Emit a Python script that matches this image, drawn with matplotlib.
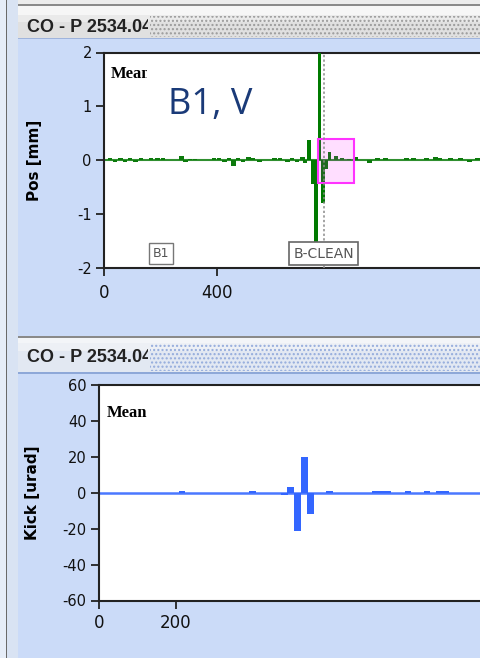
import matplotlib
matplotlib.use("Agg")
import matplotlib.pyplot as plt
from matplotlib.patches import Rectangle
from matplotlib.transforms import Bbox

plt.rcParams["axes.unicode_minus"] = False

# ---------------- data ----------------
# top panel: closed orbit position [mm] per BPM (B1, V)
pos_noise_x = [20, 38, 56, 73, 91, 109, 130, 165, 187, 208, 272, 286, 303, 321,
               388, 406, 424, 441, 456, 473, 491, 509, 526, 548, 601, 622, 647,
               664, 682, 700, 710, 820, 841, 866, 889, 939, 967, 994, 1068, 1093,
               1141, 1171, 1188, 1224, 1261, 1293, 1321]
pos_noise_v = [0.03, -0.03, 0.03, -0.03, 0.03, -0.03, 0.03, 0.03, 0.03, 0.03,
               0.08, -0.03, 0.02, 0.02, 0.03, 0.03, -0.03, 0.03, -0.12, 0.03,
               -0.03, 0.06, 0.03, -0.03, 0.03, 0.03, -0.04, 0.03, -0.03, 0.06,
               -0.05, 0.07, 0.04, 0.02, 0.05, -0.05, 0.03, 0.03, 0.03, 0.03,
               0.03, 0.05, 0.04, 0.03, 0.03, -0.03, 0.03]
pos_peak_x = [725, 737, 749, 762, 774, 785, 797]
pos_peak_v = [0.38, -0.45, -1.53, 2.6, -0.8, -0.17, 0.14]
pos_marker_x = 777
pos_box_x = [757, 884]
pos_box_v = [-0.43, 0.39]

# bottom panel: corrector kicks [urad]
kick_x = [217, 401, 484, 500, 518, 537, 552, 602, 722, 738, 753, 806, 856, 889, 905]
kick_v = [1, 1, -1, 3.4, -21.5, 19.7, -12, 1, 1, 1, 1, 1, 1, 1, 1]

top_xticks = [0, 400]
top_yticks = [-2, -1, 0, 1, 2]
bot_xticks = [0, 200]
bot_yticks = [-60, -40, -20, 0, 20, 40, 60]

title_text = "CO - P 2534.04"

# ---------------- figure ----------------
W, H = 481, 658
fig = plt.figure(figsize=(W / 100, H / 100), dpi=100)
fig.patch.set_facecolor("#cbdbf8")

bg = fig.add_axes([0, 0, 1, 1], zorder=0)
bg.set_xlim(0, W)
bg.set_ylim(H, 0)
bg.axis("off")

def rect(x0, y0, x1, y1, **kw):
    bg.add_patch(Rectangle((x0, y0), x1 - x0, y1 - y0, **kw))

# left strip
rect(0, 0, 6, H, facecolor="#e6edf8", lw=0)
rect(6, 0, 7.5, H, facecolor="#6a6a6a", lw=0)
rect(7.5, 0, 18, H, facecolor="#d9e3f3", lw=0)
# top header
rect(18, 0, W, 4, facecolor="#ececec", lw=0)
rect(18, 4, W, 5.5, facecolor="#8a8a8a", lw=0)
rect(18, 5.5, W, 15, facecolor="#f6f6f6", lw=0)
rect(18, 15, W, 38, facecolor="#e0e0e0", lw=0)
rect(18, 15, W, 22, facecolor="#eaeaea", lw=0)
rect(150, 16, W, 37, facecolor="none", hatch="....", edgecolor="#9a9a9a", lw=0)
rect(18, 37.5, W, 39, facecolor="#9fb4dc", lw=0)
# separator between panels
rect(18, 336, W, 338, facecolor="#8a8a8a", lw=0)
rect(18, 338, W, 343, facecolor="#f3f5f8", lw=0)
rect(18, 343, W, 372, facecolor="#e2e8f2", lw=0)
rect(18, 343, W, 351, facecolor="#edf0f5", lw=0)
rect(150, 344, W, 371, facecolor="none", hatch="....", edgecolor="#93abdc", lw=0)
rect(18, 372, W, 374, facecolor="#8ea8d8", lw=0)

clip1 = Bbox.from_extents(0, 0, 148, H)
for yy in (27.5, 358):
    t = bg.text(27, yy, title_text, fontsize=13, color="#222222", va="center",
                ha="left", family="Liberation Sans", fontweight="bold")
    t.set_clip_on(True)
    t.set_clip_box(clip1)

def frac(x0, y0, x1, y1):
    return [x0 / W, 1 - y1 / H, (x1 - x0) / W, (y1 - y0) / H]

def style(ax, xpad):
    ax.set_facecolor("white")
    for s in ("left", "bottom", "top"):
        ax.spines[s].set_color("#222222")
        ax.spines[s].set_linewidth(1.5)
    ax.spines["right"].set_visible(False)
    ax.tick_params(axis="both", direction="out", length=6, width=1.3,
                   color="#222222", labelcolor="#111111")
    ax.tick_params(axis="y", pad=3, labelsize=10.5)
    ax.tick_params(axis="x", pad=xpad, labelsize=12)
    for lab in ax.get_xticklabels() + ax.get_yticklabels():
        lab.set_family("DejaVu Sans")

# ---- top axes ----
ax1 = fig.add_axes(frac(104.3, 52.5, W, 267.5), zorder=2)
ax1.set_xlim(0, 1333)
ax1.set_ylim(-2, 2)
ax1.set_xticks(top_xticks)
ax1.set_yticks(top_yticks)
ax1.axhline(0, color="#2f8f2f", lw=1.5, zorder=2)
ax1.bar(pos_noise_x, pos_noise_v, width=17, color="#0c7a0c", lw=0, zorder=3)
ax1.bar(pos_peak_x, pos_peak_v, width=12.4, color="#007a00", lw=0, zorder=3)
ax1.add_patch(Rectangle((pos_box_x[0], pos_box_v[0]), pos_box_x[1] - pos_box_x[0],
                        pos_box_v[1] - pos_box_v[0], facecolor=(1, 0, 1, 0.13),
                        edgecolor="#ff33ff", lw=1.5, zorder=4))
ax1.axvline(pos_marker_x, color="#8a8a8a", lw=1.1, ls=(0, (1.5, 1.5)), zorder=5)
ax1.set_ylabel("Pos [mm]", fontsize=11, fontweight="bold")
ax1.yaxis.set_label_coords(-0.165, 0.5)
style(ax1, 6)
mt = ax1.text(0.017, 0.9, "Mean", transform=ax1.transAxes, fontsize=12,
              fontweight="bold", family="Liberation Serif", va="center", ha="left")
mt.set_clip_on(True)
mt.set_clip_box(Bbox.from_extents(0, 0, 147, H))
ax1.text(200, -1.74, "B1", fontsize=9, color="#555555",
         ha="center", va="center", family="DejaVu Sans",
         bbox=dict(boxstyle="square,pad=0.3", facecolor="white", edgecolor="#777777", lw=1))
ax1.text(pos_marker_x, -1.74, "B-CLEAN", fontsize=10, color="#555555",
         ha="center", va="center", family="DejaVu Sans",
         bbox=dict(boxstyle="square,pad=0.3", facecolor="white", edgecolor="#666666", lw=1.2),
         zorder=6)

# ---- bottom axes ----
ax2 = fig.add_axes(frac(99, 385, W, 600.5), zorder=2)
ax2.set_xlim(0, 997)
ax2.set_ylim(-60, 60)
ax2.set_xticks(bot_xticks)
ax2.set_yticks(bot_yticks)
ax2.axhline(0, color="#4a78ff", lw=1.8, zorder=2)
ax2.bar(kick_x, kick_v, width=17, color="#3366ff", lw=0, zorder=3)
ax2.set_ylabel("Kick [urad]", fontsize=11, fontweight="bold")
ax2.yaxis.set_label_coords(-0.154, 0.5)
style(ax2, 4)
ax2.text(0.02, 0.87, "Mean", transform=ax2.transAxes, fontsize=12,
         fontweight="bold", family="Liberation Serif", va="center", ha="left")

# big annotation
fig.text(168 / W, 1 - 105 / H, "B1, V", fontsize=26, color="#1a3a78",
         family="Open Sans", ha="left", va="center", zorder=10)

fig.savefig("out.png", dpi=100)
